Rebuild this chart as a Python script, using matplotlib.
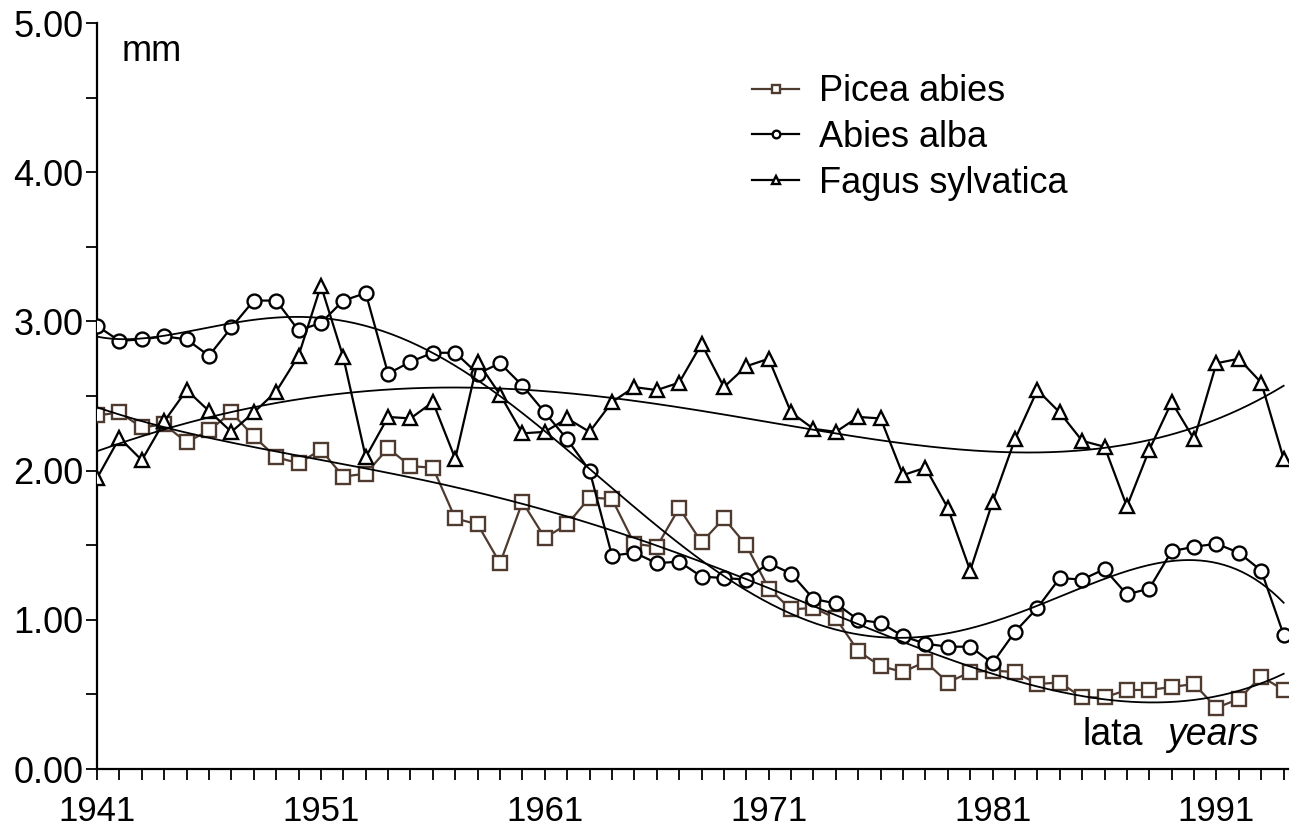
import numpy as np
import matplotlib
matplotlib.use("Agg")
import matplotlib.pyplot as plt

# annual ring width, mm
years = list(range(1941, 1995))

picea = [2.37, 2.39, 2.29, 2.31, 2.19, 2.27, 2.39, 2.23, 2.09, 2.05,
         2.14, 1.96, 1.98, 2.15, 2.03, 2.02, 1.68, 1.64, 1.38, 1.79,
         1.55, 1.64, 1.82, 1.81, 1.51, 1.49, 1.75, 1.52, 1.68, 1.50,
         1.21, 1.07, 1.08, 1.01, 0.79, 0.69, 0.65, 0.72, 0.58, 0.65,
         0.66, 0.65, 0.57, 0.58, 0.48, 0.48, 0.53, 0.53, 0.55, 0.57,
         0.41, 0.47, 0.62, 0.53]

abies = [2.97, 2.87, 2.88, 2.90, 2.88, 2.77, 2.96, 3.14, 3.14, 2.94,
         2.99, 3.14, 3.19, 2.65, 2.73, 2.79, 2.79, 2.65, 2.72, 2.57,
         2.39, 2.21, 2.00, 1.43, 1.45, 1.38, 1.39, 1.29, 1.28, 1.27,
         1.38, 1.31, 1.14, 1.11, 1.00, 0.98, 0.89, 0.84, 0.82, 0.82,
         0.71, 0.92, 1.08, 1.28, 1.27, 1.34, 1.17, 1.21, 1.46, 1.49,
         1.51, 1.45, 1.33, 0.90]

fagus = [1.95, 2.22, 2.07, 2.33, 2.54, 2.40, 2.26, 2.39, 2.53, 2.77,
         3.24, 2.76, 2.09, 2.36, 2.35, 2.46, 2.08, 2.73, 2.51, 2.25,
         2.26, 2.35, 2.26, 2.46, 2.56, 2.54, 2.59, 2.85, 2.56, 2.70,
         2.75, 2.39, 2.28, 2.26, 2.36, 2.35, 1.97, 2.02, 1.75, 1.33,
         1.79, 2.21, 2.54, 2.39, 2.20, 2.16, 1.76, 2.14, 2.46, 2.21,
         2.72, 2.75, 2.59, 2.08]

# name, values, marker, colour, trend polynomial order
series = [
    ("Picea abies", picea, "s", "#4f3a30", 4),
    ("Abies alba", abies, "o", "black", 6),
    ("Fagus sylvatica", fagus, "^", "black", 4),
]

plt.rcParams["font.family"] = ["Liberation Sans", "DejaVu Sans"]

fig = plt.figure(figsize=(13.01, 8.36), dpi=100)
ax = fig.add_axes([0.0746, 0.0801, 0.9155, 0.8923])

x = np.array(years, dtype=float)
xs = np.linspace(x[0], x[-1], 400)
for name, vals, mk, col, deg in series:
    ax.plot(years, vals, color=col, lw=1.6, marker=mk, markersize=10,
            markerfacecolor="white", markeredgecolor=col, markeredgewidth=1.7,
            label=name, zorder=3)
    # polynomial trend line
    c = np.polyfit((x - 1967) / 10, vals, deg)
    ax.plot(xs, np.polyval(c, (xs - 1967) / 10), color="black", lw=1.3, zorder=4)

ax.set_xlim(1941, 1994.2)
ax.set_ylim(0, 5)
ax.set_yticks(np.arange(0, 5.01, 1))
ax.set_yticklabels([f"{v:.2f}" for v in np.arange(0, 5.01, 1)])
ax.set_yticks(np.arange(0.5, 5, 1), minor=True)
ax.set_xticks(range(1941, 1995, 10))
ax.set_xticks(range(1941, 1995), minor=True)

for s in ["top", "right"]:
    ax.spines[s].set_visible(False)
for s in ["left", "bottom"]:
    ax.spines[s].set_linewidth(1.6)

ax.tick_params(axis="y", which="both", direction="out", length=8, width=1.3,
               labelsize=26, pad=2)
ax.tick_params(axis="x", which="both", direction="out", length=8, width=1.3,
               labelsize=25, pad=11)

ax.text(1942.1, 4.93, "mm", fontsize=26, va="top", ha="left")
ax.text(1985.0, 0.16, "lata", fontsize=27, ha="left", va="baseline")
ax.text(1988.8, 0.16, "years", fontsize=27, ha="left", va="baseline", style="italic")

ax.legend(loc="upper left", bbox_to_anchor=(0.523, 0.975), frameon=False,
          fontsize=26, handlelength=1.3, handletextpad=0.55, labelspacing=0.3,
          markerscale=0.55)

fig.savefig("out.png", dpi=100)
